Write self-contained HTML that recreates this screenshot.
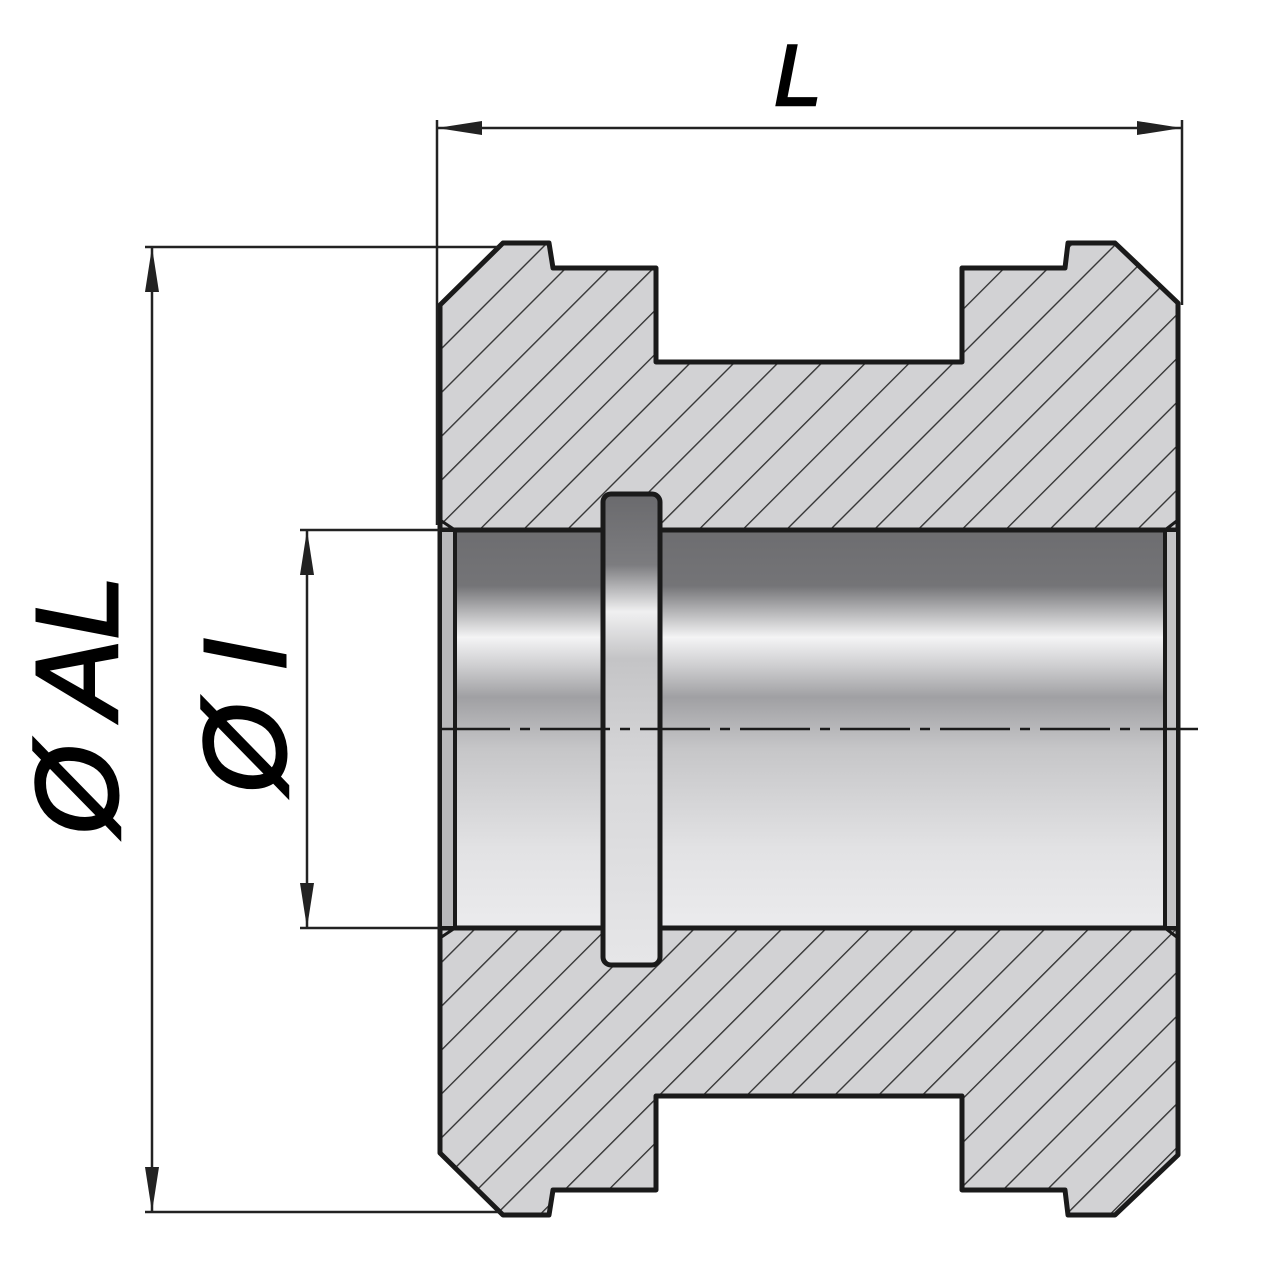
<!DOCTYPE html>
<html><head><meta charset="utf-8"><style>html,body{margin:0;padding:0;background:#fff}svg{display:block}</style></head>
<body>
<svg width="1280" height="1269" viewBox="0 0 1280 1269" xmlns="http://www.w3.org/2000/svg">
<defs>
<pattern id="h" patternUnits="userSpaceOnUse" width="31" height="31" patternTransform="rotate(-45)">
<rect width="31" height="31" fill="#d2d2d4"/>
<line x1="0" y1="0" x2="31" y2="0" stroke="#333" stroke-width="2.8"/>
</pattern>
<linearGradient id="g" x1="0" y1="0" x2="0" y2="1">
<stop offset="0" stop-color="#6d6d70"/>
<stop offset="0.14" stop-color="#747477"/>
<stop offset="0.2" stop-color="#b0b0b2"/>
<stop offset="0.27" stop-color="#f4f4f5"/>
<stop offset="0.34" stop-color="#cfcfd1"/>
<stop offset="0.42" stop-color="#a0a0a3"/>
<stop offset="0.55" stop-color="#c6c6c8"/>
<stop offset="0.8" stop-color="#e2e2e4"/>
<stop offset="1" stop-color="#ebebed"/>
</linearGradient>
<linearGradient id="g2" x1="0" y1="0" x2="0" y2="1">
<stop offset="0" stop-color="#6a6a6d"/>
<stop offset="0.15" stop-color="#7c7c7f"/>
<stop offset="0.25" stop-color="#f0f0f1"/>
<stop offset="0.35" stop-color="#c4c4c6"/>
<stop offset="0.6" stop-color="#d8d8da"/>
<stop offset="1" stop-color="#e6e6e8"/>
</linearGradient>
</defs>
<path d="M440,305 L503,243 L549,243 L553,268 L656,268 L656,362 L962,362 L962,268 L1065,268 L1068,243 L1115,243 L1178,303 L1178,530 L440,530 Z" fill="url(#h)" stroke="#1a1a1a" stroke-width="5" stroke-linejoin="round"/>
<path d="M440,1153 L503,1215 L549,1215 L553,1190 L656,1190 L656,1096 L962,1096 L962,1190 L1065,1190 L1068,1215 L1115,1215 L1178,1155 L1178,928 L440,928 Z" fill="url(#h)" stroke="#1a1a1a" stroke-width="5" stroke-linejoin="round"/>
<rect x="440" y="530" width="738" height="398" fill="url(#g)" stroke="#1a1a1a" stroke-width="5"/>
<rect x="440" y="530" width="15" height="398" fill="#b8b8ba" stroke="#1a1a1a" stroke-width="4"/>
<rect x="1165" y="530" width="13" height="398" fill="#c4c4c6" stroke="#1a1a1a" stroke-width="4"/>
<line x1="440" y1="520" x2="455" y2="530" stroke="#1a1a1a" stroke-width="3"/>
<line x1="1178" y1="520" x2="1165" y2="530" stroke="#1a1a1a" stroke-width="3"/>
<line x1="440" y1="938" x2="455" y2="928" stroke="#1a1a1a" stroke-width="3"/>
<line x1="1178" y1="938" x2="1165" y2="928" stroke="#1a1a1a" stroke-width="3"/>
<rect x="603" y="494" width="57" height="471" rx="8" fill="url(#g2)" stroke="#1a1a1a" stroke-width="5"/>
<line x1="440" y1="729" x2="1198" y2="729" stroke="#1a1a1a" stroke-width="2.5" stroke-dasharray="70,10,10,10"/>
<line x1="437" y1="120" x2="437" y2="525" stroke="#222" stroke-width="2.5"/>
<line x1="1182" y1="120" x2="1182" y2="305" stroke="#222" stroke-width="2.5"/>
<line x1="437" y1="128" x2="1182" y2="128" stroke="#222" stroke-width="2.5"/>
<polygon points="437,128 482,121 482,135" fill="#222"/>
<polygon points="1182,128 1137,121 1137,135" fill="#222"/>
<text x="798" y="105" font-family="Liberation Sans, sans-serif" font-style="italic" font-size="86" text-anchor="middle" fill="#000" stroke="#000" stroke-width="2.5">L</text>
<line x1="145" y1="247" x2="500" y2="247" stroke="#222" stroke-width="2.5"/>
<line x1="145" y1="1212" x2="500" y2="1212" stroke="#222" stroke-width="2.5"/>
<line x1="152" y1="247" x2="152" y2="1212" stroke="#222" stroke-width="2.5"/>
<polygon points="152,247 145,292 159,292" fill="#222"/>
<polygon points="152,1212 145,1167 159,1167" fill="#222"/>
<text transform="translate(117,705) rotate(-90)" font-family="Liberation Sans, sans-serif" font-style="italic" font-size="116" text-anchor="middle" fill="#000" stroke="#000" stroke-width="3">Ø AL</text>
<line x1="300" y1="530" x2="440" y2="530" stroke="#222" stroke-width="2.5"/>
<line x1="300" y1="928" x2="440" y2="928" stroke="#222" stroke-width="2.5"/>
<line x1="307" y1="530" x2="307" y2="928" stroke="#222" stroke-width="2.5"/>
<polygon points="307,530 300,575 314,575" fill="#222"/>
<polygon points="307,928 300,883 314,883" fill="#222"/>
<text transform="translate(285,716) rotate(-90)" font-family="Liberation Sans, sans-serif" font-style="italic" font-size="116" text-anchor="middle" fill="#000" stroke="#000" stroke-width="3">Ø I</text>
</svg>
</body></html>
